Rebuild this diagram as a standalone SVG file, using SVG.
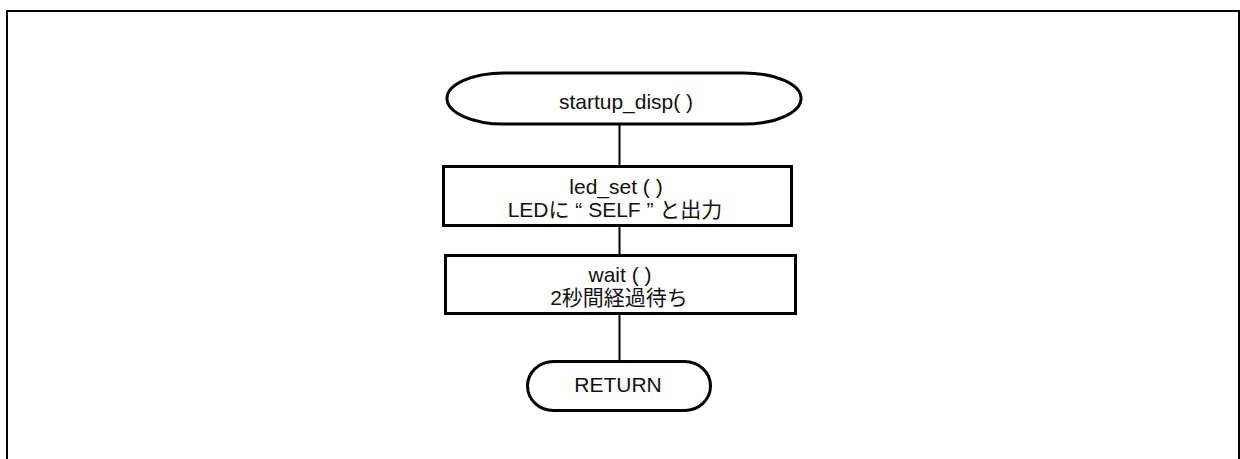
<svg xmlns="http://www.w3.org/2000/svg" width="1240" height="459" viewBox="0 0 1240 459">
<style>
.shape{fill:#fff;stroke:#000;stroke-width:3}
.conn{stroke:#000;stroke-width:2;fill:none}
.frame{stroke:#000;stroke-width:2;fill:none}
text{font-family:"Liberation Sans","Noto Sans CJK JP",sans-serif;font-size:21px;fill:#111;text-anchor:middle}
</style>
<rect width="1240" height="459" fill="#fff"/>
<path class="frame" d="M7,459 V11 H1239 V459"/>
<g id="connectors">
<line class="conn" x1="619.5" y1="124" x2="619.5" y2="166"/>
<line class="conn" x1="619.5" y1="226" x2="619.5" y2="255"/>
<line class="conn" x1="619.5" y1="314" x2="619.5" y2="361"/>
</g>
<g id="start">
<rect class="shape" x="447" y="73" width="354" height="51" rx="57" ry="25.5"/>
<text x="626" y="109">startup_disp( )</text>
</g>
<g id="led_set">
<rect class="shape" x="443.5" y="166.5" width="348" height="59"/>
<text x="616" y="194">led_set ( )</text>
<text x="615" y="217">LEDに “ SELF ” と出力</text>
</g>
<g id="wait">
<rect class="shape" x="445.5" y="255.5" width="350" height="58"/>
<text x="620" y="282">wait ( )</text>
<text x="619" y="305">2秒間経過待ち</text>
</g>
<g id="return">
<rect class="shape" x="527.5" y="361.5" width="183" height="49" rx="26" ry="24.5"/>
<text x="618" y="392">RETURN</text>
</g>
</svg>
